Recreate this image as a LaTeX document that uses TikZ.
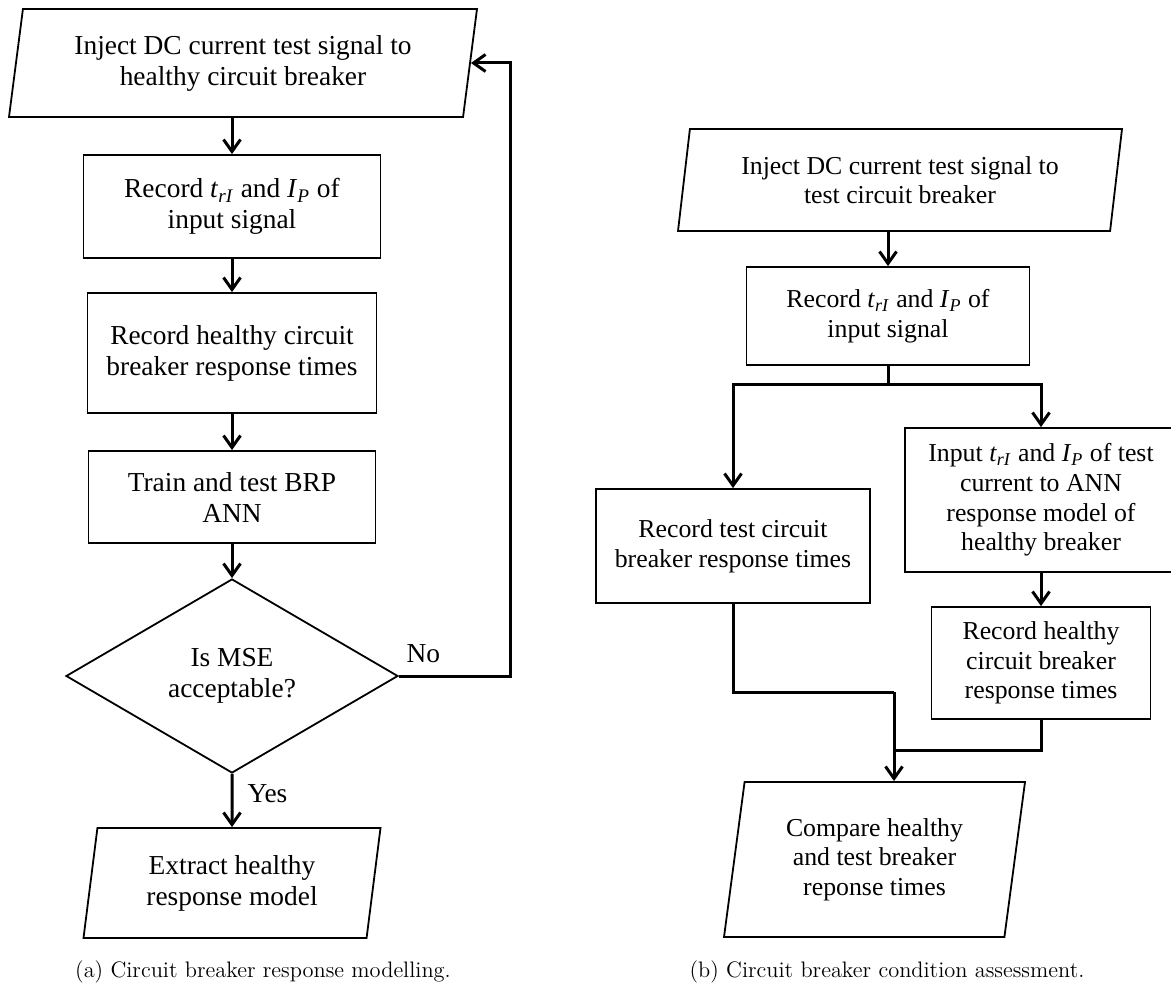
\documentclass[tikz,border=0pt]{standalone}
\usepackage{fontspec}
\newfontfamily\tnr{Liberation Serif}
\usetikzlibrary{shapes.geometric,arrows.meta}

\newcommand{\trI}{\textit{t}\textsubscript{\textit{rI}}}
\newcommand{\IP}{\textit{I}\textsubscript{\textit{P}}}

\begin{document}
\begin{tikzpicture}[x=0.5pt, y=-0.5pt,
    box/.style={draw, line width=0.9pt, align=center, inner sep=0pt},
    io/.style={box, trapezium, trapezium left angle=76, trapezium right angle=104, trapezium stretches body},
    decision/.style={box, diamond},
    conn/.style={line width=1.5pt},
    arr/.style={conn, -{Straight Barb[length=6pt,width=8.5pt]}},
    fa/.style={font=\tnr\fontsize{13.7}{15.5}\selectfont},
    fb/.style={font=\tnr\fontsize{12.9}{14.8}\selectfont},
    subcap/.style={font=\fontsize{11.2}{13}\selectfont}]
    \useasboundingbox (0,0) rectangle (1171,983);

    % (a) response modelling
    \node[io, fa, minimum width=234pt, minimum height=54pt] (inj1) at (243,63) {Inject DC current test signal to\\healthy circuit breaker};
    \node[box, fa, minimum width=148.5pt, minimum height=51.5pt] (rec1) at (232,206.5) {Record \trI{} and \IP{} of\\input signal};
    \node[box, fa, minimum width=144.5pt, minimum height=60pt] (rec2) at (232,353) {Record healthy circuit\\breaker response times};
    \node[box, fa, minimum width=143.5pt, minimum height=46pt] (train) at (232,497) {Train and test BRP\\ANN};
    \node[decision, fa, minimum width=166pt, minimum height=97pt] (mse) at (232,676) {Is MSE\\acceptable?};
    \node[io, fa, minimum width=148.5pt, minimum height=55pt] (ext) at (232,883) {Extract healthy\\response model};
    \coordinate (back) at (510,676);

    \draw[arr] (rec1.north |- inj1.south) -- (rec1.north);
    \draw[arr] (rec1.south) -- (rec2.north);
    \draw[arr] (rec2.south) -- (train.north);
    \draw[arr] (train.south) -- (mse.north);
    \draw[arr] (mse.south) -- node[fa, pos=0.38, right=7pt, inner sep=0pt] {Yes} (ext.north);
    \draw[arr] (mse.east) -- node[fa, pos=0.22, above=6pt, inner sep=0pt] {No} (back) |- (inj1.east);

    % (b) condition assessment
    \node[io, fb, minimum width=222pt, minimum height=51pt] (inj2) at (900,180) {Inject DC current test signal to\\test circuit breaker};
    \node[box, fb, minimum width=141.5pt, minimum height=49pt] (rec3) at (888,316) {Record \trI{} and \IP{} of\\input signal};
    \node[box, fb, minimum width=137pt, minimum height=57pt] (recT) at (733,546) {Record test circuit\\breaker response times};
    \node[box, fb, minimum width=136pt, minimum height=72pt] (inp) at (1041,500) {Input \trI{} and \IP{} of test\\current to ANN\\response model of\\healthy breaker};
    \node[box, fb, minimum width=109.5pt, minimum height=56pt] (hrec) at (1041,663) {Record healthy\\circuit breaker\\response times};
    \node[io, fb, minimum width=150.5pt, minimum height=77.5pt] (cmp) at (874.5,859.5) {Compare healthy\\and test breaker\\reponse times};
    \coordinate (split) at (888,385);
    \coordinate (jn) at (894,692);
    \coordinate (jn2) at (894,750);

    \draw[arr] (rec3.north |- inj2.south) -- (rec3.north);
    \draw[conn] (rec3.south) -- (split);
    \draw[arr] (split) -| (recT.north);
    \draw[arr] (split) -| (inp.north);
    \draw[arr] (inp.south) -- (hrec.north);
    \draw[conn] (recT.south) |- (jn);
    \draw[conn] (hrec.south) |- (jn2);
    \draw[arr] (jn) -- (jn |- cmp.north);

    \node[subcap] (capa) at (263,972) {(a) Circuit breaker response modelling.};
    \node[subcap] (capb) at (887,972) {(b) Circuit breaker condition assessment.};
\end{tikzpicture}
\end{document}
